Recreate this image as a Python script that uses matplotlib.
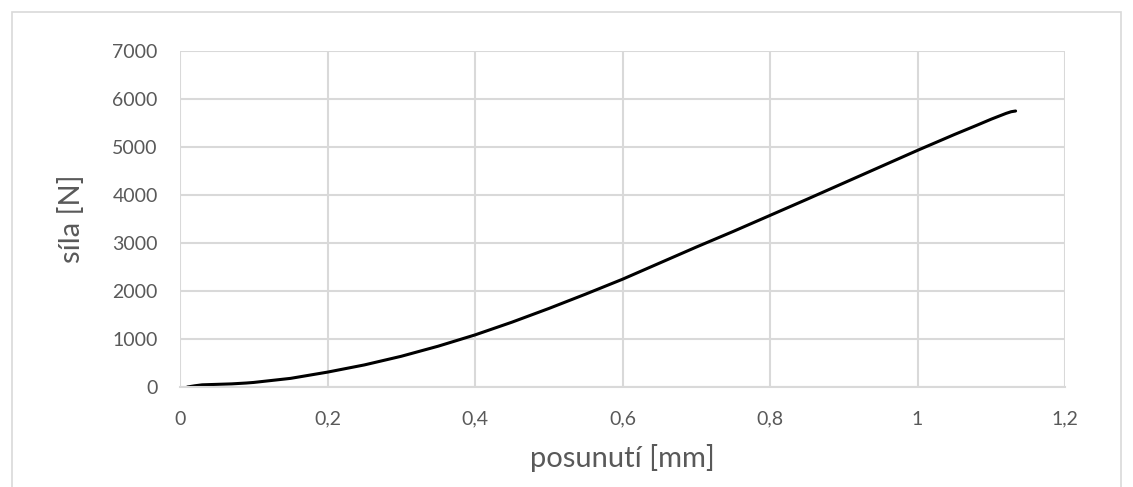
import matplotlib.pyplot as plt
from matplotlib.patches import Rectangle
from matplotlib.ticker import FuncFormatter

# data
posunuti = [0.01, 0.02, 0.03, 0.05, 0.07, 0.09, 0.10, 0.15, 0.20, 0.25, 0.30, 0.35,
            0.40, 0.45, 0.50, 0.55, 0.60, 0.65, 0.70, 0.75, 0.80, 0.85, 0.90, 0.95,
            1.00, 1.05, 1.08, 1.10, 1.12, 1.127, 1.133]
sila = [0, 25, 45, 55, 65, 83, 95, 180, 310, 460, 640, 850,
        1085, 1350, 1635, 1935, 2245, 2580, 2915, 3240, 3575, 3910, 4250, 4590,
        4930, 5260, 5450, 5580, 5700, 5735, 5750]

xticks = [0, 0.2, 0.4, 0.6, 0.8, 1.0, 1.2]
yticks = [0, 1000, 2000, 3000, 4000, 5000, 6000, 7000]

grid_c = "#d9d9d9"
text_c = "#595959"
plt.rcParams['font.family'] = ['Lato', 'DejaVu Sans']

fig = plt.figure(figsize=(11.33, 4.87), dpi=100)
fig.patches.append(Rectangle((12 / 1133, -0.01), (1121 - 12) / 1133, 1 - 12 / 487 + 0.01,
                             transform=fig.transFigure, fill=False, edgecolor=grid_c, lw=1.2))

ax = fig.add_axes([180 / 1133, 1 - 387 / 487, (1065 - 180) / 1133, (387 - 51) / 487])
ax.plot(posunuti, sila, color="black", lw=2.2, solid_capstyle="round")

ax.set_xlim(0, 1.2)
ax.set_ylim(0, 7000)
ax.set_xticks(xticks)
ax.set_yticks(yticks)
ax.xaxis.set_major_formatter(FuncFormatter(lambda v, p: f"{v:g}".replace(".", ",")))
ax.grid(True, color=grid_c, lw=1.5)
ax.set_axisbelow(True)
for s in ax.spines.values():
    s.set_visible(False)
ax.spines["bottom"].set_visible(True)
ax.spines["bottom"].set_color(grid_c)
ax.spines["bottom"].set_linewidth(1.5)
ax.tick_params(length=0, labelsize=14, labelcolor=text_c)
ax.tick_params(axis="x", pad=17)
ax.tick_params(axis="y", pad=16)

ax.set_xlabel("posunutí [mm]", fontsize=21, color=text_c, labelpad=12)
ax.set_ylabel("síla [N]", fontsize=21, color=text_c, labelpad=20)

fig.savefig("out.png", dpi=100)
